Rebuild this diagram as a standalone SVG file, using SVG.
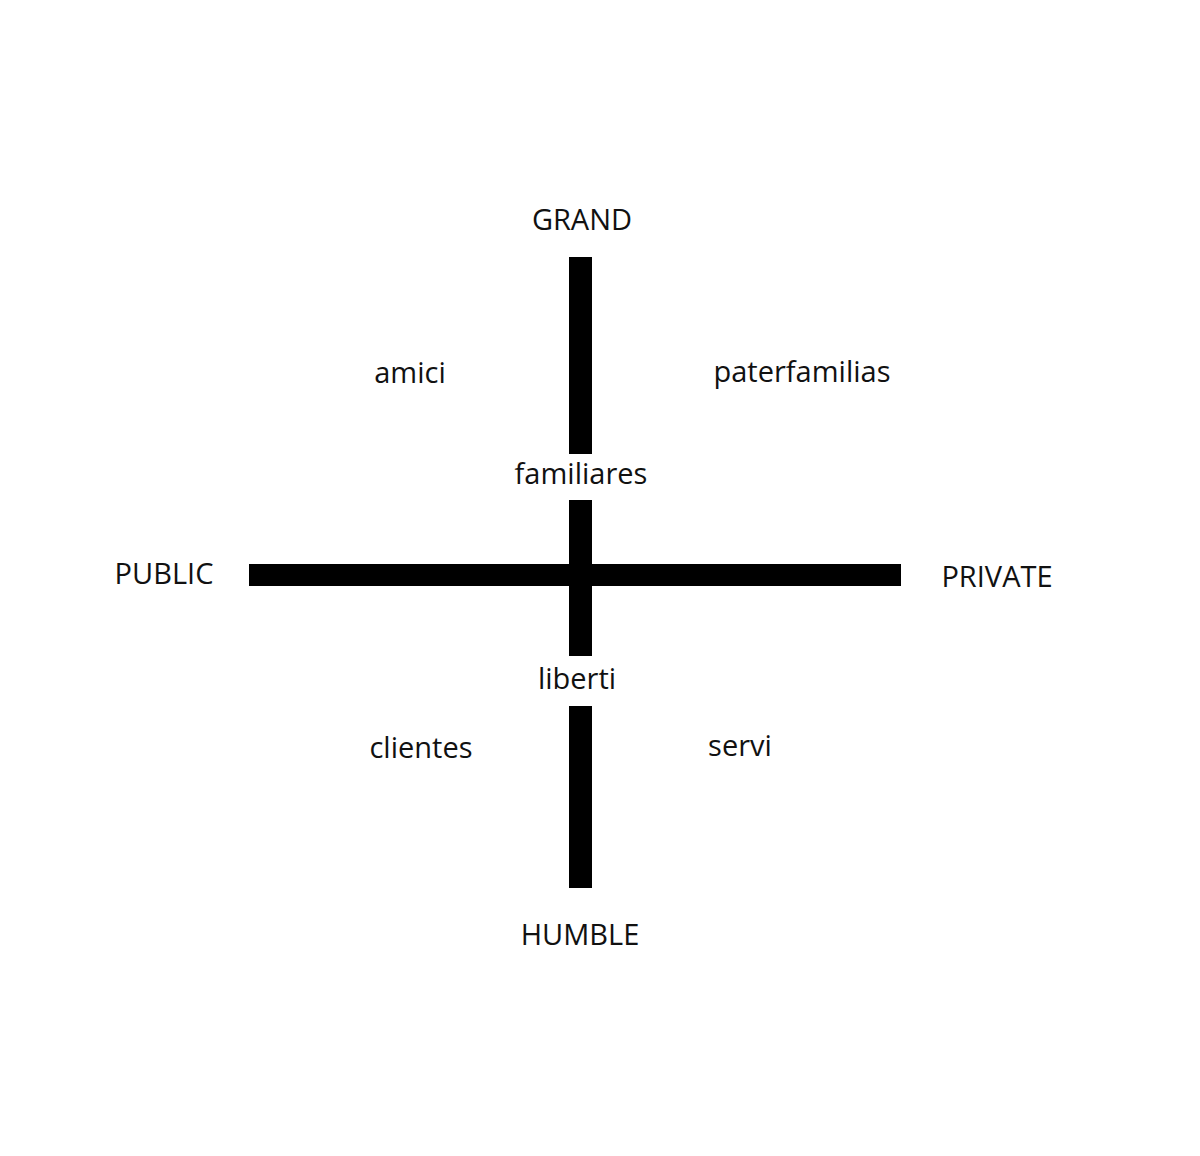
<svg xmlns="http://www.w3.org/2000/svg" width="1200" height="1156" viewBox="0 0 1200 1156">
<style>
.t{font-family:"Open Sans","Liberation Sans",sans-serif;font-size:29px;fill:#111;text-anchor:middle}
.bar{fill:#000}
</style>
<rect width="1200" height="1156" fill="#fff"/>
<g id="connectors">
<rect class="bar" x="569" y="257" width="23" height="197"/>
<rect class="bar" x="569" y="500" width="23" height="156"/>
<rect class="bar" x="569" y="706" width="23" height="182"/>
<rect class="bar" x="249" y="564" width="652" height="22"/>
</g>
<g id="grand"><text class="t" x="582" y="230">GRAND</text></g>
<g id="humble"><text class="t" x="580" y="945">HUMBLE</text></g>
<g id="public"><text class="t" x="164" y="584">PUBLIC</text></g>
<g id="private"><text class="t" x="997" y="587">PRIVATE</text></g>
<g id="amici"><text class="t" x="410" y="383">amici</text></g>
<g id="paterfamilias"><text class="t" x="802" y="382">paterfamilias</text></g>
<g id="familiares"><text class="t" x="581" y="484">familiares</text></g>
<g id="liberti"><text class="t" x="577" y="689">liberti</text></g>
<g id="clientes"><text class="t" x="421" y="758">clientes</text></g>
<g id="servi"><text class="t" x="740" y="756">servi</text></g>
</svg>
